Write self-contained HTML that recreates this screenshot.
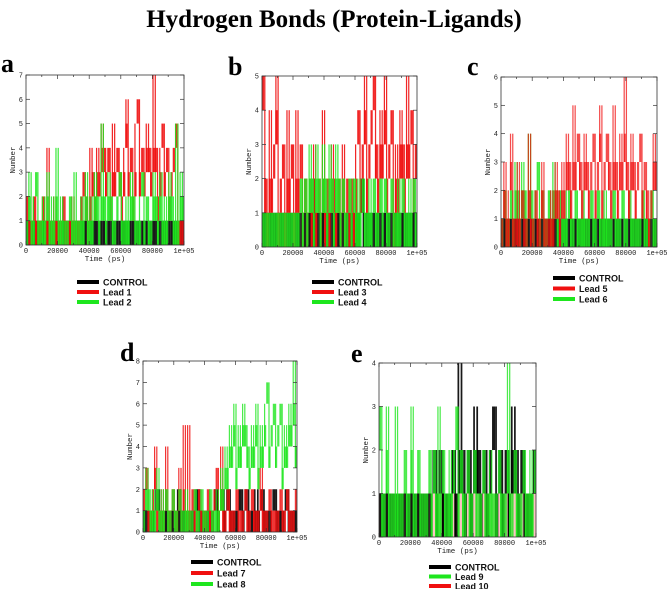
<!DOCTYPE html>
<html><head><meta charset="utf-8">
<style>
html,body{margin:0;padding:0;background:#fff;}
svg{display:block;}
.tick{font-family:"Liberation Mono",monospace;font-size:7px;fill:#222;}
.ttl{font-family:"Liberation Mono",monospace;font-size:7.5px;fill:#222;}
.leg{font-family:"Liberation Sans",sans-serif;font-size:9px;font-weight:bold;fill:#111;}
.let{font-family:"Liberation Serif",serif;font-size:26px;font-weight:bold;fill:#000;}
</style></head>
<body>
<svg id="fig" width="669" height="589" viewBox="0 0 669 589" xmlns="http://www.w3.org/2000/svg">
<text x="334" y="27" text-anchor="middle" font-family="Liberation Serif, serif" font-size="25" font-weight="bold">Hydrogen Bonds (Protein-Ligands)</text>
</svg>
<script>
// ---- data (values sampled evenly over 0..100000 ps) ----
const xTickLabels = ["0","20000","40000","60000","80000","1e+05"];
const xTickValues = [0,20000,40000,60000,80000,100000];

const aControl = [0,1,0,0,1,0,0,1,0,0,1,0,1,0,0,1,0,0,1,0,1,0,0,1,1,0,1,0,1,1,0,1,0,1,0,1,1,0,1,0,0,1,0,1,0,0,1,0,1,0,0,0,1,0,0,1,0,0,0,0];
const aLead1 = [2,0,1,2,0,1,1,2,0,4,1,0,2,1,0,1,2,0,1,0,2,1,0,1,2,3,2,1,4,3,2,4,3,5,4,3,4,2,5,3,4,3,2,4,6,3,4,2,5,6,3,4,3,5,4,3,7,4,2,4,5,3,4,2,3,4,5,1,0,1];
const aLead2 = [1,3,0,2,3,1,0,2,1,3,0,2,1,4,0,2,1,0,1,2,0,3,1,0,2,1,3,0,2,1,3,2,1,5,2,1,3,2,0,1,2,3,1,0,2,1,3,2,1,0,2,3,1,2,0,1,3,2,1,3,0,2,1,3,2,0,5,1,3,2];

const bControl = [0,1,0,0,1,0,1,0,0,1,0,1,0,0,1,1,0,1,0,2,1,0,1,1,0,1,0,0,1,0,1,0,1,0,0,1,0,1,2,0,1,0,0,1,0,1,0,0,1,0,1,0,0,1,0,1,0,0,1,0];
const bLead3 = [5,2,1,4,2,3,5,1,2,3,1,4,2,3,1,4,2,3,1,2,1,2,1,3,1,2,1,4,1,2,1,3,2,1,2,1,3,1,2,1,2,1,3,4,2,3,5,2,3,4,5,3,2,4,3,5,2,3,4,1,3,2,4,3,2,5,3,4,2,3];
const bLead4 = [0,1,0,1,0,1,1,0,1,0,1,0,1,0,1,0,1,2,1,2,1,3,2,1,3,2,1,3,2,1,3,2,1,3,2,1,2,0,1,2,1,2,0,2,1,2,1,0,2,1,2,0,1,2,1,2,0,1,2,1,0,2,1,2,1,0,2,1,2,1];

const cControl = [0,1,0,0,1,0,0,1,0,1,0,0,1,0,0,1,0,1,0,1,1,0,1,1,1,0,1,1,0,1,0,1,0,0,1,0,1,0,1,0,0,1,0,1,0,0,1,0,1,0,0,1,1,0,1,1,0,1,0,0];
const cLead5 = [1,3,0,2,4,1,0,3,1,2,0,1,4,0,1,2,0,1,3,0,1,0,2,1,3,2,1,3,2,4,3,2,5,3,4,3,2,4,3,2,3,4,2,3,5,2,3,4,3,2,5,3,2,4,3,6,3,2,4,3,2,3,4,2,3,2,1,2,4,3];
const cLead6 = [1,2,0,1,2,1,3,2,1,3,2,1,4,2,1,2,3,1,2,0,1,2,1,3,2,1,2,0,2,1,2,0,1,2,1,0,2,1,0,1,2,0,1,2,1,0,2,1,0,1,2,1,0,1,2,0,1,2,1,0,1,0,1,2,1,0,1,2,1,0];

const dControl = [0,1,0,1,2,1,0,1,0,1,0,2,1,0,1,0,1,2,1,0,1,0,1,2,1,2,1,2,1,0,1,2,1,2,1,0,2,1,2,1,0,1,2,1,0,1,2,1,0,1];
const dLead7 = [2,3,0,1,2,4,1,0,2,1,4,0,1,2,0,1,3,1,5,0,5,1,2,0,1,2,1,0,1,2,0,1,2,3,1,4,0,1,2,1,0,1,2,1,0,1,2,0,1,2,1,0,1,3,1,0,1,2,0,1,0,1,2,0,1,2,1,0,1,2];
const dLead8 = [1,3,2,0,2,1,3,0,2,1,2,0,1,2,0,1,2,1,0,2,1,0,1,2,0,1,2,1,0,1,2,1,0,2,1,3,2,4,3,5,4,6,3,5,4,6,5,4,3,5,4,6,3,5,4,6,7,4,5,6,4,5,6,3,5,4,6,5,8,4];

const eControl = [0,1,0,1,0,1,0,0,1,0,1,0,0,1,0,1,1,2,1,2,1,0,1,2,1,4,2,1,2,1,3,2,1,2,1,2,3,1,2,1,2,1,3,2,1,2,1,0,1,2];
const eLead9 = [3,0,1,3,0,1,0,3,1,0,1,2,0,1,3,0,1,2,0,1,0,1,2,1,2,0,3,1,2,1,0,2,1,2,3,1,2,0,1,2,0,1,2,1,0,1,2,1,0,2,1,0,1,2,1,0,1,4,0,1,2,1,0,1,2,1,0,2,1,2];
const eLead10 = [0,0,0,1,0,0,0,0,0,0,0,0,0,0,1,0,0,0,0,0];

const RED="#f01010", GREEN="#1ee61e", BLACK="#000";
const NS="http://www.w3.org/2000/svg";
const svg=document.getElementById('fig');
function mk(tag,attrs,parent){const e=document.createElementNS(NS,tag);for(const k in attrs)e.setAttribute(k,attrs[k]);(parent||svg).appendChild(e);return e;}

function panel(p){
  const g=mk('g',{});
  
  
  const xs=v=>p.x0+(v/100000)*(p.x1-p.x0);
  const ys=v=>p.y1-(v/p.ymax)*(p.y1-p.y0);
  p.series.forEach(s=>{
    const vals=s.data, n=vals.length;
    const sg=mk('g',{fill:s.color,'fill-opacity':s.op||0.9},g);
    
    
    for(let i=0;i<n;i++){
      const prev=i>0?vals[i-1]:vals[i], cur=vals[i];
      const lo=Math.max(0,Math.min(prev,cur-1)), hi=Math.max(prev,cur,1);
      const xa=xs(i/n*100000), xb=xs((i+1)/n*100000);
      const spike=(hi-lo)>=2;
      const w=spike?Math.max(0.8,(xb-xa)*0.55):Math.max(0.8,xb-xa);
      // spike part thin; base band full width
      if(spike){
        const rb=mk('rect',{x:xa,y:ys(lo+1),width:Math.max(0.8,xb-xa),height:ys(lo)-ys(lo+1)},sg);
        
        
      }
      const r=mk('rect',{x:xa,y:ys(hi),width:w,height:ys(lo)-ys(hi)},sg);
      
      
    }
  });
  const fr=mk('rect',{x:p.x0,y:p.y0,width:p.x1-p.x0,height:p.y1-p.y0,fill:'none',stroke:'#333','stroke-width':0.8},g);
  
  
  for(let v=0;v<=100000;v+=10000){
    const x=xs(v), len=(v%20000===0)?4:2;
    mk('line',{x1:x,x2:x,y1:p.y0,y2:p.y0+len,stroke:'#333','stroke-width':0.7},g);
    mk('line',{x1:x,x2:x,y1:p.y1,y2:p.y1-len,stroke:'#333','stroke-width':0.7},g);
  }
  xTickLabels.forEach((l,i)=>{
    const t=mk('text',{x:xs(xTickValues[i]),y:p.y1+8,'text-anchor':'middle',class:'tick'},g);
    t.textContent=l;
    
    
  });
  for(let v=0;v<=p.ymax;v++){
    const y=ys(v);
    mk('line',{x1:p.x0,x2:p.x0+4,y1:y,y2:y,stroke:'#333','stroke-width':0.7},g);
    mk('line',{x1:p.x1,x2:p.x1-4,y1:y,y2:y,stroke:'#333','stroke-width':0.7},g);
    const t=mk('text',{x:p.x0-3,y:y+2.5,'text-anchor':'end',class:'tick'},g);
    t.textContent=String(v);
    
    
  }
  const xt=mk('text',{x:(p.x0+p.x1)/2,y:p.y1+16,'text-anchor':'middle',class:'ttl'},g);
  xt.textContent='Time (ps)';
  
  
  const cy=(p.y0+p.y1)/2;
  const yt=mk('text',{x:p.x0-11,y:cy,'text-anchor':'middle',class:'ttl',transform:'rotate(-90 '+(p.x0-11)+' '+cy+')'},g);
  yt.textContent='Number';
  
  
  const lt=mk('text',{x:p.lx,y:p.ly,class:'let'},g);
  lt.textContent=p.id;
  
  
  p.legend.forEach((e,i)=>{
    const y=p.gy+i*p.gs;
    const ln=mk('line',{x1:p.gx,x2:p.gx+22,y1:y,y2:y,stroke:e[1],'stroke-width':4},g);
    
    
    const t=mk('text',{x:p.gx+26,y:y+3.5,class:'leg'},g);
    t.textContent=e[0];
    
    
  });
}

panel({id:'a',x0:26,x1:184,y0:75,y1:245,ymax:7,lx:1,ly:72,gx:77,gy:282,gs:10,
  series:[{name:'control',data:aControl,color:BLACK},{name:'lead-1',data:aLead1,color:RED},{name:'lead-2',data:aLead2,color:GREEN,op:0.85}],
  legend:[['CONTROL',BLACK],['Lead 1',RED],['Lead 2',GREEN]]});
panel({id:'b',x0:262,x1:417,y0:76,y1:247,ymax:5,lx:228,ly:75,gx:312,gy:282,gs:10,
  series:[{name:'control',data:bControl,color:BLACK},{name:'lead-3',data:bLead3,color:RED},{name:'lead-4',data:bLead4,color:GREEN,op:0.85}],
  legend:[['CONTROL',BLACK],['Lead 3',RED],['Lead 4',GREEN]]});
panel({id:'c',x0:501,x1:657,y0:77,y1:247,ymax:6,lx:467,ly:75,gx:553,gy:278,gs:10.5,
  series:[{name:'control',data:cControl,color:BLACK},{name:'lead-6',data:cLead6,color:GREEN,op:0.85},{name:'lead-5',data:cLead5,color:RED,op:0.75}],
  legend:[['CONTROL',BLACK],['Lead 5',RED],['Lead 6',GREEN]]});
panel({id:'d',x0:143,x1:297,y0:361,y1:532,ymax:8,lx:120,ly:361,gx:191,gy:562,gs:11,
  series:[{name:'control',data:dControl,color:BLACK},{name:'lead-7',data:dLead7,color:RED,op:0.85},{name:'lead-8',data:dLead8,color:GREEN,op:0.8}],
  legend:[['CONTROL',BLACK],['Lead 7',RED],['Lead 8',GREEN]]});
panel({id:'e',x0:379,x1:536,y0:363,y1:537,ymax:4,lx:351,ly:362,gx:429,gy:567,gs:9.5,
  series:[{name:'lead-10',data:eLead10,color:RED,op:0.25},{name:'control',data:eControl,color:BLACK,op:0.9},{name:'lead-9',data:eLead9,color:GREEN,op:0.8}],
  legend:[['CONTROL',BLACK],['Lead 9',GREEN],['Lead 10',RED]]});
</script>
</body></html>
